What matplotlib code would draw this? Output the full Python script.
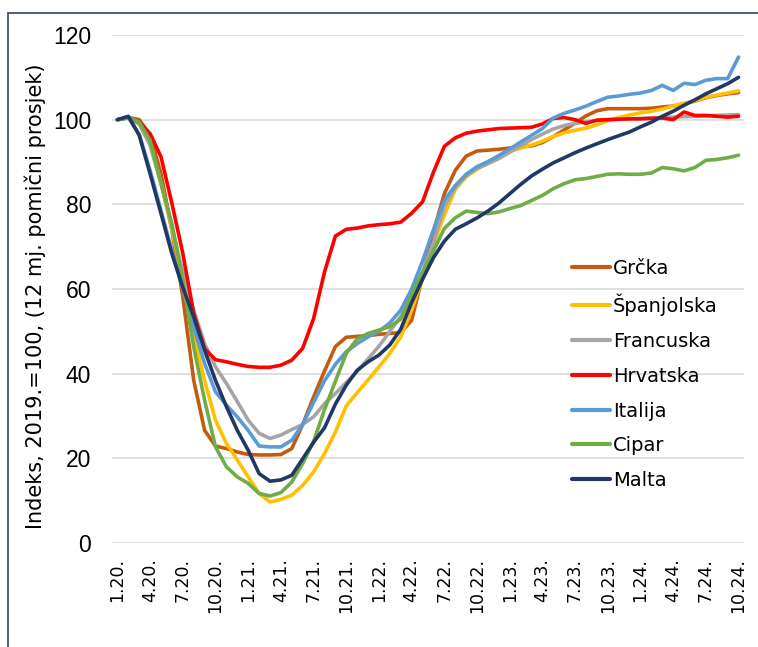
import matplotlib
matplotlib.use("Agg")
import matplotlib.pyplot as plt
from matplotlib.patches import Rectangle
import numpy as np

# ---------------- data ----------------
tick_labels = ["1.20.", "4.20.", "7.20.", "10.20.", "1.21.", "4.21.", "7.21.", "10.21.",
               "1.22.", "4.22.", "7.22.", "10.22.", "1.23.", "4.23.", "7.23.", "10.23.",
               "1.24.", "4.24.", "7.24.", "10.24."]

grcka = [100, 100.5, 100, 96.3, 87.2, 73.8, 58.1, 38.4, 26.6, 22.9, 22.3, 21.5, 20.9, 20.8, 20.8,
         20.9, 22.3, 28, 34.5, 40.6, 46.4, 48.6, 48.8, 49, 49.3, 49.5, 49.7, 52.6, 63, 73.5, 82.5,
         88, 91.4, 92.6, 92.8, 93, 93.3, 93.6, 93.8, 94.6, 96, 97.6, 99.2, 100.9, 102.1, 102.6,
         102.6, 102.6, 102.6, 102.7, 103, 103.2, 103.8, 104.4, 105.2, 105.7, 106.1, 106.4]

spanjolska = [100, 100.5, 99, 94, 85, 74, 62, 49, 38.4, 29, 23.5, 19.6, 15.6, 11.7, 9.7, 10.3,
              11.3, 13.6, 16.8, 21.1, 26.2, 32.4, 35.5, 38.5, 41.6, 44.8, 48.7, 55, 62.5, 70.5,
              77.5, 83.5, 86.5, 88.3, 89.7, 91.2, 92.5, 93.3, 94, 94.9, 96, 96.9, 97.5, 98, 98.8,
              99.8, 100.5, 101.1, 101.6, 102, 102.5, 103.2, 103.8, 104.5, 105.3, 105.8, 106.3, 106.8]

francuska = [100, 100.5, 99, 94, 85, 74.5, 64, 55, 47, 41.6, 37.7, 33.4, 29, 25.9, 24.7, 25.5,
             26.8, 28, 29.8, 32.9, 35.3, 37.9, 40.5, 43.5, 46.5, 50, 53.5, 58, 64, 71, 79.5, 84,
             86.8, 88.5, 89.6, 90.8, 92.3, 93.8, 95.3, 96.6, 97.8, 98.6, 99.1, 99.5, 99.8, 100,
             100.1, 100.2, 100.3, 100.4, 100.5, 100.6, 100.7, 100.8, 100.9, 101, 101.1, 101.2]

hrvatska = [100, 100.5, 99.4, 96.7, 91.2, 80.2, 68.4, 54.2, 45.9, 43.3, 42.8, 42.2, 41.7, 41.5,
            41.5, 42, 43.2, 46, 53, 64, 72.5, 74.1, 74.4, 74.9, 75.2, 75.4, 75.8, 77.9, 80.6, 87.6,
            93.7, 95.7, 96.8, 97.3, 97.6, 97.9, 98, 98.1, 98.2, 99, 100.3, 100.5, 100, 99.1, 99.9,
            100, 100.1, 100.2, 100.2, 100.3, 100.4, 100, 101.8, 101, 101, 100.8, 100.6, 100.8]

italija = [100, 100.5, 96.5, 88, 78.5, 69, 60, 51, 42.4, 35.7, 32.6, 29.8, 26.6, 22.9, 22.7, 22.7,
           24.3, 28, 33.2, 38.3, 42.2, 45.2, 47.1, 48.7, 50, 52, 55, 60, 66.6, 74, 81, 84.4, 87.1,
           88.9, 90.1, 91.5, 93.1, 94.7, 96.3, 97.9, 100.4, 101.5, 102.3, 103.2, 104.3, 105.3,
           105.6, 106, 106.3, 106.9, 108.1, 106.9, 108.6, 108.3, 109.3, 109.7, 109.7, 114.8]

cipar = [100, 100.5, 99.4, 95.1, 84.9, 75.4, 62, 46.3, 33.7, 22.7, 18, 15.6, 14.1, 11.7, 11.1, 11.9,
         14.4, 18.8, 24, 31.5, 38.2, 44.8, 48.2, 49.5, 50.3, 51.1, 52.9, 58.7, 64, 69, 74.3, 76.8,
         78.4, 78.1, 77.8, 78.2, 79, 79.7, 80.9, 82.1, 83.7, 84.9, 85.8, 86.1, 86.6, 87.1, 87.2,
         87.1, 87.1, 87.4, 88.7, 88.4, 87.9, 88.7, 90.4, 90.6, 91, 91.6]

malta = [100, 100.8, 96.3, 87.2, 77.8, 68.3, 60.4, 53.4, 45.5, 38.4, 32.2, 26.6, 21.9, 16.4, 14.6,
         14.9, 16, 19.9, 23.8, 27.2, 32.8, 37.3, 40.8, 42.8, 44.4, 46.8, 50.5, 56.8, 62.3, 67.4,
         71.3, 74.1, 75.4, 76.8, 78.4, 80.3, 82.5, 84.7, 86.7, 88.3, 89.8, 91, 92.2, 93.3, 94.3,
         95.3, 96.2, 97.1, 98.3, 99.4, 100.8, 102, 103.4, 104.7, 106.1, 107.3, 108.5, 110]

series_names = ["Grčka", "Španjolska", "Francuska", "Hrvatska", "Italija", "Cipar", "Malta"]
series_values = [grcka, spanjolska, francuska, hrvatska, italija, cipar, malta]
series_colors = ["#C55A11", "#FFC000", "#A5A5A5", "#FF0000", "#5B9BD5", "#70AD47", "#203864"]

# ---------------- figure ----------------
W, H = 758, 647
fig = plt.figure(figsize=(W / 100, H / 100), dpi=100)
ax = fig.add_axes([112 / W, (H - 543) / H, (744 - 112) / W, (543 - 35) / H])

x = np.arange(len(grcka))
for name, vals, col in zip(series_names, series_values, series_colors):
    ax.plot(x, vals, color=col, lw=2.6, label=name, solid_capstyle="round",
            solid_joinstyle="round")

ax.set_xlim(-0.5, len(grcka) - 0.5)
ax.set_ylim(0, 120)
ax.set_yticks(np.arange(0, 121, 20))
ax.set_yticklabels([str(v) for v in range(0, 121, 20)], family="Liberation Sans", fontsize=16.5)
ax.set_xticks(np.arange(0, len(grcka), 3))
ax.set_xticklabels(tick_labels, rotation=90, fontsize=12.5, family="DejaVu Sans")
ax.tick_params(axis="y", length=0, pad=15, colors="#000000")
ax.tick_params(axis="x", length=0, pad=11, colors="#000000")
ax.grid(axis="y", color="#D9D9D9", lw=1.2)
ax.set_axisbelow(True)
for s in ax.spines.values():
    s.set_visible(False)

fig.text(35 / W, 1 - 296 / H, "Indeks, 2019.=100, (12 mj. pomični prosjek)", rotation=90,
         ha="center", va="center", fontsize=15, family="DejaVu Sans")

leg = fig.legend(loc="upper left", bbox_to_anchor=(572 / W, 1 - 259 / H), frameon=False,
                 fontsize=14, handlelength=1.95, handletextpad=0.15, labelspacing=0.81,
                 borderpad=0, borderaxespad=0)
for line in leg.get_lines():
    line.set_linewidth(3)

# outer frame (top and left visible)
fig.patches.append(Rectangle((7.5 / W, -0.1), 1.2, 1.1 - 12.5 / H, transform=fig.transFigure,
                             fill=False, edgecolor="#44546A", lw=1.3))

fig.savefig("out.png", dpi=100)
